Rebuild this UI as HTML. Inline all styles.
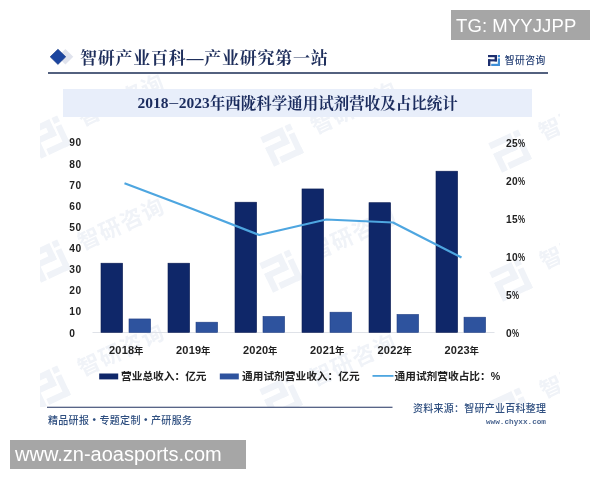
<!DOCTYPE html>
<html lang="zh-CN">
<head>
<meta charset="utf-8">
<title>2018-2023年西陇科学通用试剂营收及占比统计</title>
<style>
html,body{margin:0;padding:0;background:#fff;}
body{width:600px;height:480px;position:relative;overflow:hidden;font-family:"Liberation Sans","Noto Sans CJK SC",sans-serif;}
.abs{position:absolute;white-space:nowrap;line-height:1;}
.serif{font-family:"Liberation Serif","Noto Serif CJK SC",serif;font-weight:700;}
.tg{left:451px;top:10px;width:138.5px;height:29.5px;background:#a6a6a6;}
.tg span{position:absolute;left:5px;top:6.8px;font-size:18.5px;letter-spacing:0.1px;color:#fff;line-height:1;}
.hdr{left:80px;top:49.8px;font-size:17px;letter-spacing:0.75px;color:#1f2f5c;}
.hline{left:47.5px;top:72.4px;width:500.5px;height:1.5px;background:#53617f;}
.band{left:62.7px;top:89px;width:469.5px;height:28px;background:#e8eefa;}
.title{left:62.6px;top:95px;width:470px;text-align:center;font-size:15.5px;color:#1b2c5e;}
.ax{font-weight:700;font-size:10.2px;letter-spacing:0.45px;color:#222;}
.xl{font-weight:700;font-size:11px;letter-spacing:0.2px;color:#222;}
.pc{display:inline-block;transform:scaleX(0.78);transform-origin:0 50%;letter-spacing:0;}
.dot{font-family:"Noto Sans CJK SC",sans-serif;font-weight:900;}
.nian{font-size:9.4px;letter-spacing:0;margin-left:-0.3px;}
.leg{margin-top:0.4px;font-weight:700;font-size:10.7px;color:#222;}
.foot{color:#2f4f80;font-size:10px;}
.wm{left:10px;top:440px;width:236px;height:29.3px;background:#a6a6a6;}
.wm span{position:absolute;left:5px;top:4px;font-size:20px;color:#fff;line-height:1;}
</style>
</head>
<body>
<svg class="abs" style="left:40px;top:0" width="520" height="407" viewBox="40 0 520 407">
<g fill="#f0f3f8" font-family="'Liberation Sans','Noto Sans CJK SC',sans-serif" font-weight="700" font-size="22">
<g transform="translate(49,138) rotate(-25)"><g transform="translate(-16,-17) scale(2.7)"><rect x="0" y="0" width="9" height="2.4"/><rect x="6.6" y="2" width="2.4" height="4.6"/><rect x="0" y="4.3" width="9" height="2.3"/><rect x="0" y="4.3" width="2.4" height="7.7"/><rect x="9.9" y="0" width="2.3" height="2.4"/><rect x="9.9" y="3.6" width="2.3" height="8.4"/><rect x="3.3" y="9.6" width="8.9" height="2.4"/></g><text x="35" y="4" letter-spacing="1.3">智研咨询</text></g>
<g transform="translate(282,146) rotate(-25)"><g transform="translate(-16,-17) scale(2.7)"><rect x="0" y="0" width="9" height="2.4"/><rect x="6.6" y="2" width="2.4" height="4.6"/><rect x="0" y="4.3" width="9" height="2.3"/><rect x="0" y="4.3" width="2.4" height="7.7"/><rect x="9.9" y="0" width="2.3" height="2.4"/><rect x="9.9" y="3.6" width="2.3" height="8.4"/><rect x="3.3" y="9.6" width="8.9" height="2.4"/></g><text x="35" y="4" letter-spacing="1.3">智研咨询</text></g>
<g transform="translate(510,152) rotate(-25)"><g transform="translate(-16,-17) scale(2.7)"><rect x="0" y="0" width="9" height="2.4"/><rect x="6.6" y="2" width="2.4" height="4.6"/><rect x="0" y="4.3" width="9" height="2.3"/><rect x="0" y="4.3" width="2.4" height="7.7"/><rect x="9.9" y="0" width="2.3" height="2.4"/><rect x="9.9" y="3.6" width="2.3" height="8.4"/><rect x="3.3" y="9.6" width="8.9" height="2.4"/></g><text x="35" y="4" letter-spacing="1.3">智研咨询</text></g>
<g transform="translate(49,262) rotate(-25)"><g transform="translate(-16,-17) scale(2.7)"><rect x="0" y="0" width="9" height="2.4"/><rect x="6.6" y="2" width="2.4" height="4.6"/><rect x="0" y="4.3" width="9" height="2.3"/><rect x="0" y="4.3" width="2.4" height="7.7"/><rect x="9.9" y="0" width="2.3" height="2.4"/><rect x="9.9" y="3.6" width="2.3" height="8.4"/><rect x="3.3" y="9.6" width="8.9" height="2.4"/></g><text x="35" y="4" letter-spacing="1.3">智研咨询</text></g>
<g transform="translate(281,272) rotate(-25)"><g transform="translate(-16,-17) scale(2.7)"><rect x="0" y="0" width="9" height="2.4"/><rect x="6.6" y="2" width="2.4" height="4.6"/><rect x="0" y="4.3" width="9" height="2.3"/><rect x="0" y="4.3" width="2.4" height="7.7"/><rect x="9.9" y="0" width="2.3" height="2.4"/><rect x="9.9" y="3.6" width="2.3" height="8.4"/><rect x="3.3" y="9.6" width="8.9" height="2.4"/></g><text x="35" y="4" letter-spacing="1.3">智研咨询</text></g>
<g transform="translate(511,281) rotate(-25)"><g transform="translate(-16,-17) scale(2.7)"><rect x="0" y="0" width="9" height="2.4"/><rect x="6.6" y="2" width="2.4" height="4.6"/><rect x="0" y="4.3" width="9" height="2.3"/><rect x="0" y="4.3" width="2.4" height="7.7"/><rect x="9.9" y="0" width="2.3" height="2.4"/><rect x="9.9" y="3.6" width="2.3" height="8.4"/><rect x="3.3" y="9.6" width="8.9" height="2.4"/></g><text x="35" y="4" letter-spacing="1.3">智研咨询</text></g>
<g transform="translate(49,388) rotate(-25)"><g transform="translate(-16,-17) scale(2.7)"><rect x="0" y="0" width="9" height="2.4"/><rect x="6.6" y="2" width="2.4" height="4.6"/><rect x="0" y="4.3" width="9" height="2.3"/><rect x="0" y="4.3" width="2.4" height="7.7"/><rect x="9.9" y="0" width="2.3" height="2.4"/><rect x="9.9" y="3.6" width="2.3" height="8.4"/><rect x="3.3" y="9.6" width="8.9" height="2.4"/></g><text x="35" y="4" letter-spacing="1.3">智研咨询</text></g>
<g transform="translate(281,398) rotate(-25)"><g transform="translate(-16,-17) scale(2.7)"><rect x="0" y="0" width="9" height="2.4"/><rect x="6.6" y="2" width="2.4" height="4.6"/><rect x="0" y="4.3" width="9" height="2.3"/><rect x="0" y="4.3" width="2.4" height="7.7"/><rect x="9.9" y="0" width="2.3" height="2.4"/><rect x="9.9" y="3.6" width="2.3" height="8.4"/><rect x="3.3" y="9.6" width="8.9" height="2.4"/></g><text x="35" y="4" letter-spacing="1.3">智研咨询</text></g>
<g transform="translate(511,410) rotate(-25)"><g transform="translate(-16,-17) scale(2.7)"><rect x="0" y="0" width="9" height="2.4"/><rect x="6.6" y="2" width="2.4" height="4.6"/><rect x="0" y="4.3" width="9" height="2.3"/><rect x="0" y="4.3" width="2.4" height="7.7"/><rect x="9.9" y="0" width="2.3" height="2.4"/><rect x="9.9" y="3.6" width="2.3" height="8.4"/><rect x="3.3" y="9.6" width="8.9" height="2.4"/></g><text x="35" y="4" letter-spacing="1.3">智研咨询</text></g>
</g>
</svg>
<div class="abs tg"><span>TG: MYYJJPP</span></div>

<svg class="abs" style="left:40px;top:40px" width="40" height="30" viewBox="40 40 40 30">
  <polygon points="65.40,49.00 73.30,56.70 65.40,64.40 57.50,56.70" fill="#e0e3ed"/>
  <polygon points="57.95,49.15 65.75,56.8 57.95,64.45 50.15,56.8" fill="#1c459f" stroke="#173a86" stroke-width="0.6"/>
</svg>
<div class="abs hdr serif">智研产业百科—产业研究第一站</div>

<svg class="abs" style="left:488.2px;top:55px" width="13" height="12" viewBox="0 0 13 12">
  <g fill="#1d2f6f">
    <rect x="0" y="0" width="9" height="2.2"/><rect x="6.6" y="2" width="2.4" height="4.4"/><rect x="0" y="4.3" width="9" height="2.1"/><rect x="0" y="4.3" width="2.4" height="6.7"/>
  </g>
  <g fill="#3f8fd8">
    <rect x="9.8" y="0" width="2.2" height="2.2"/><rect x="9.8" y="3.4" width="2.2" height="7.6"/><rect x="3.2" y="8.8" width="8.8" height="2.2"/>
  </g>
</svg>
<div class="abs" style="left:504.8px;top:56.3px;font-size:9.8px;letter-spacing:0.4px;font-weight:500;color:#2a4478;">智研咨询</div>

<div class="abs hline"></div>
<div class="abs band"></div>
<div class="abs title serif"><span style="position:relative;top:-0.8px">2018<span style="display:inline-block;transform:scaleX(2.2);margin:0 2.5px 0 2.3px;font-family:'Noto Serif CJK SC',serif;font-weight:500">-</span>2023</span>年西陇科学通用试剂营收及占比统计</div>

<!-- left axis -->
<div class="abs ax" style="left:69.3px;top:138.4px">90</div>
<div class="abs ax" style="left:69.3px;top:159.5px">80</div>
<div class="abs ax" style="left:69.3px;top:180.6px">70</div>
<div class="abs ax" style="left:69.3px;top:201.8px">60</div>
<div class="abs ax" style="left:69.3px;top:222.9px">50</div>
<div class="abs ax" style="left:69.3px;top:244.0px">40</div>
<div class="abs ax" style="left:69.3px;top:265.1px">30</div>
<div class="abs ax" style="left:69.3px;top:286.2px">20</div>
<div class="abs ax" style="left:69.3px;top:307.4px">10</div>
<div class="abs ax" style="left:69.3px;top:328.5px">0</div>
<!-- right axis -->
<div class="abs ax" style="left:506px;top:138.5px">25<span class="pc">%</span></div>
<div class="abs ax" style="left:506px;top:176.5px">20<span class="pc">%</span></div>
<div class="abs ax" style="left:506px;top:214.5px">15<span class="pc">%</span></div>
<div class="abs ax" style="left:506px;top:252.5px">10<span class="pc">%</span></div>
<div class="abs ax" style="left:506px;top:290.5px">5<span class="pc">%</span></div>
<div class="abs ax" style="left:506px;top:328.5px">0<span class="pc">%</span></div>

<svg class="abs" style="left:0;top:0" width="600" height="480" viewBox="0 0 600 480">
  <rect x="92.5" y="332" width="402" height="1" fill="#dfe2e8"/>
  <g fill="#0f2769" stroke="#0a1c52" stroke-width="0.6">
    <rect x="101.00" y="263.20" width="21.6" height="69.20"/>
    <rect x="168.00" y="263.20" width="21.6" height="69.20"/>
    <rect x="235.00" y="202.20" width="21.6" height="130.20"/>
    <rect x="302.00" y="188.95" width="21.6" height="143.45"/>
    <rect x="369.00" y="202.70" width="21.6" height="129.70"/>
    <rect x="436.00" y="171.20" width="21.6" height="161.20"/>
  </g>
  <g fill="#2e539e" stroke="#213f83" stroke-width="0.6">
    <rect x="129.00" y="318.95" width="21.6" height="13.45"/>
    <rect x="196.00" y="322.20" width="21.6" height="10.20"/>
    <rect x="263.00" y="316.45" width="21.6" height="15.95"/>
    <rect x="330.00" y="312.20" width="21.6" height="20.20"/>
    <rect x="397.00" y="314.45" width="21.6" height="17.95"/>
    <rect x="464.00" y="317.20" width="21.6" height="15.20"/>
  </g>
  <polyline points="124.5,183.25 192.6,209 259.25,235 326.25,219.5 393,222.5 461.5,257.5" fill="none" stroke="#4ea6e0" stroke-width="2.2" stroke-linejoin="round"/>
  <!-- legend -->
  <rect x="99.2" y="373.5" width="19" height="5.9" fill="#0f2769"/>
  <rect x="219.8" y="373.5" width="19" height="5.9" fill="#2e539e"/>
  <rect x="372.5" y="375" width="21" height="1.8" fill="#4ea6e0"/>
  <rect x="47" y="406.7" width="345.5" height="1.2" fill="#46557a"/>
</svg>

<!-- x labels -->
<div class="abs xl" style="left:109px;top:344.5px">2018<span class="nian">年</span></div>
<div class="abs xl" style="left:176px;top:344.5px">2019<span class="nian">年</span></div>
<div class="abs xl" style="left:243px;top:344.5px">2020<span class="nian">年</span></div>
<div class="abs xl" style="left:310px;top:344.5px">2021<span class="nian">年</span></div>
<div class="abs xl" style="left:377.5px;top:344.5px">2022<span class="nian">年</span></div>
<div class="abs xl" style="left:444.5px;top:344.5px">2023<span class="nian">年</span></div>

<div class="abs leg" style="left:121px;top:371px">营业总收入：亿元</div>
<div class="abs leg" style="left:242px;top:371px">通用试剂营业收入：亿元</div>
<div class="abs leg" style="left:394.5px;top:371px">通用试剂营收占比：%</div>

<div class="abs foot" style="left:48px;top:414.5px;letter-spacing:0.3px;font-weight:500">精品研报<span class="dot">·</span>专题定制<span class="dot">·</span>产研服务</div>
<div class="abs foot" style="left:413px;top:403.8px;letter-spacing:0.25px;font-weight:500">资料来源：智研产业百科整理</div>
<div class="abs" style="left:486px;top:418.8px;font-family:'Liberation Mono',monospace;font-weight:700;font-size:7.7px;color:#4a6590;">www.chyxx.com</div>

<div class="abs wm"><span>www.zn-aoasports.com</span></div>
</body>
</html>
